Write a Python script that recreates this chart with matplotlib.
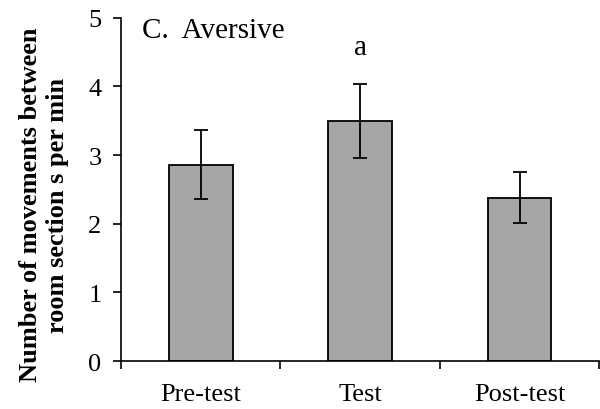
import matplotlib
matplotlib.use("Agg")
import matplotlib.pyplot as plt

phases = ["Pre-test", "Test", "Post-test"]
means = [2.86, 3.50, 2.38]
errors = [0.50, 0.54, 0.37]
sig_labels = ["", "a", ""]

plt.rcParams["font.family"] = ["Liberation Serif", "DejaVu Serif"]

fig = plt.figure(figsize=(6, 4.1), dpi=100)
ax = fig.add_axes([0.2017, 0.117, 0.797, 0.837])

x = list(range(len(phases)))
ax.bar(x, means, width=0.4, color="#a6a6a6", edgecolor="black", linewidth=1.3,
       yerr=errors, error_kw=dict(ecolor="black", elinewidth=1.3, capsize=5, capthick=1.3))

for i, lab in enumerate(sig_labels):
    if lab:
        ax.text(i, 4.57, lab, ha="center", va="center", fontsize=21)

ax.text(-0.37, 4.83, "C.  Aversive", ha="left", va="center", fontsize=21)

ax.set_xlim(-0.5, 2.5)
ax.set_ylim(0, 5)
ax.set_yticks(range(6))
ax.set_xticks(x)
ax.set_xticklabels(phases, fontsize=19)
ax.set_xticks([-0.5, 0.5, 1.5, 2.5], minor=True)
ax.tick_params(axis="x", which="major", length=0, pad=16)
ax.tick_params(axis="x", which="minor", length=6, width=1.2, direction="out")
ax.tick_params(axis="y", length=6, width=1.2, direction="out", labelsize=19, pad=8)

for s in ["top", "right"]:
    ax.spines[s].set_visible(False)
for s in ["left", "bottom"]:
    ax.spines[s].set_linewidth(1.2)

# y label placed in figure coords to match the reference offset
fig.text(44 / 600, 1 - 205 / 410, "Number of movements between\nroom section s per min",
         rotation=90, ha="center", va="center", multialignment="center",
         fontsize=19, fontweight="bold", linespacing=1.2)

plt.savefig("out.png", dpi=100)
plt.close()
